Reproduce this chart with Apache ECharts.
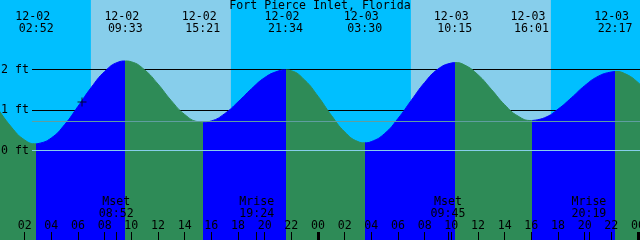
<!DOCTYPE html>
<html><head><meta charset="utf-8">
<script src="https://cdn.jsdelivr.net/npm/echarts@6/dist/echarts.min.js"></script>
<style>html,body{margin:0;padding:0;background:#00BFFF}#c{width:640px;height:240px}</style>
</head><body><div id="c"></div>
<script>
// ---- data ----
const chartTitle = 'Fort Pierce Inlet, Florida';
const extremeTimes = ['12-02 02:52','12-02 09:33','12-02 15:21','12-02 21:34','12-03 03:30','12-03 10:15','12-03 16:01','12-03 22:17'];
const extremeKinds = ['L','H','L','H','L','H','L','H'];
const extremeHeights = [0.165, 2.21, 0.70, 1.99, 0.19, 2.17, 0.74, 1.95];
const hourlyHours = [0,1,2,3,4,5,6,7,8,9,10,11,12,13,14,15,16,17,18,19,20,21,22,23,24,25,26,27,28,29,30,31,32,33,34,35,36,37,38,39,40,41,42,43,44,45,46,47,48,49];
const hourlyHeights = [1.03,0.58,0.26,0.17,0.31,0.64,1.09,1.56,1.95,2.18,2.19,1.99,1.64,1.23,0.89,0.71,0.73,0.91,1.20,1.52,1.80,1.96,1.97,1.74,1.34,0.87,0.46,0.22,0.22,0.42,0.79,1.24,1.68,2.01,2.16,2.11,1.87,1.51,1.13,0.85,0.74,0.81,1.02,1.30,1.60,1.83,1.94,1.90,1.68,1.33];
const sunriseTimes = ['12-02 06:58','12-03 06:58'];
const sunsetTimes = ['12-02 17:28','12-03 17:28'];
const moonNames = ['Mset','Mrise','Mset','Mrise'];
const moonTimes = ['12-02 08:52','12-02 19:24','12-03 09:45','12-03 20:19'];
const nowMarkTime = '12-02 06:18';
const nowMarkHeight = 1.2;
const feetTicks = [0,1,2];
const hourTicks = [0,2,4,6,8,10,12,14,16,18,20,22,24,26,28,30,32,34,36,38,40,42,44,46,48];
const midnightTicks = [0,24,48];
const datumLevel = 0;
const levelLine = 0.73;

// ---- helpers ----
function toHours(s){ // 'MM-DD HH:MM' relative to 12-02 00:00
  const [d,t]=s.split(' ');
  const day=parseInt(d.split('-')[1],10)-2;
  const [hh,mm]=t.split(':').map(Number);
  return day*24+hh+mm/60;
}
const X_MIN=0.15, X_MAX=48.15, Y_MIN=-2.21, Y_MAX=3.716;
const FONT='DejaVu Sans Mono', FS=11.6;
const C_NIGHT='#00BFFF', C_DAY='#87CEEB', C_RISE='#0000FF', C_FALL='#2E8B57';

const extremeHours = extremeTimes.map(toHours);
const tideData = hourlyHours.map((h,i)=>[h,hourlyHeights[i]])
  .concat(extremeHours.map((h,i)=>[h,extremeHeights[i]]))
  .sort((a,b)=>a[0]-b[0]);

const pieces=[];
pieces.push({lt:extremeHours[0], color: extremeKinds[0]==='H'?C_RISE:C_FALL});
for(let i=0;i<extremeHours.length-1;i++){
  pieces.push({gte:extremeHours[i], lt:extremeHours[i+1], color: extremeKinds[i+1]==='H'?C_RISE:C_FALL});
}
pieces.push({gte:extremeHours[extremeHours.length-1], color: extremeKinds[extremeKinds.length-1]==='H'?C_FALL:C_RISE});

const moonHours = moonTimes.map(toHours);
function nearestIdx(arr,v){let b=0;for(let i=1;i<arr.length;i++){if(Math.abs(arr[i]-v)<Math.abs(arr[b]-v))b=i;}return b;}
const pad=n=>String(n).padStart(2,'0');

const dayAreas = sunriseTimes.map((s,i)=>[{xAxis:toHours(s)},{xAxis:toHours(sunsetTimes[i])}]);
const noLine = {show:false,onZero:false};

const chart = echarts.init(document.getElementById('c'));
chart.setOption({
  animation:false,
  backgroundColor:C_NIGHT,
  title:{text:chartTitle,left:'center',top:0,padding:0,textStyle:{fontFamily:FONT,fontSize:FS,fontWeight:'normal',color:'#000',lineHeight:12}},
  grid:[{left:0,right:0,top:0,bottom:0,containLabel:false,outerBoundsMode:'none'},
        {left:32,right:0,top:0,bottom:0,containLabel:false,outerBoundsMode:'none'}],
  visualMap:{type:'piecewise',show:false,dimension:0,seriesIndex:0,pieces:pieces},
  xAxis:[
    {gridIndex:0,type:'value',min:X_MIN,max:X_MAX,position:'bottom',z:10,
     axisLine:noLine,splitLine:{show:false},
     axisTick:{show:true,inside:true,length:8,customValues:hourTicks,lineStyle:{color:'#000',width:1}},
     axisLabel:{inside:true,margin:8,customValues:hourTicks,formatter:v=>pad(Math.round(v)%24),
       fontFamily:FONT,fontSize:FS,color:'#000',lineHeight:12}},
    {gridIndex:0,type:'value',min:X_MIN,max:X_MAX,position:'bottom',z:10,
     axisLine:noLine,splitLine:{show:false},
     axisTick:{show:true,inside:true,length:8,customValues:moonHours,lineStyle:{color:'#000',width:1}},
     axisLabel:{inside:true,margin:20,customValues:moonHours,
       formatter:v=>{const i=nearestIdx(moonHours,v);return moonNames[i]+'\n'+moonTimes[i].split(' ')[1];},
       fontFamily:FONT,fontSize:FS,color:'#000',lineHeight:12}},
    {gridIndex:0,type:'value',min:X_MIN,max:X_MAX,position:'bottom',z:10,
     axisLine:noLine,splitLine:{show:false},axisLabel:{show:false},
     axisTick:{show:true,inside:true,length:8,customValues:midnightTicks,lineStyle:{color:'#000',width:3}}},
    {gridIndex:0,type:'value',min:X_MIN,max:X_MAX,position:'top',z:10,
     axisLine:noLine,splitLine:{show:false},axisTick:{show:false},
     axisLabel:{inside:true,margin:11,customValues:extremeHours,
       formatter:v=>{const i=nearestIdx(extremeHours,v);const p=extremeTimes[i].split(' ');return p[0]+' \n'+p[1];},
       fontFamily:FONT,fontSize:FS,color:'#000',lineHeight:12}},
    {gridIndex:1,type:'value',min:X_MIN,max:X_MAX,show:false,axisLine:noLine}
  ],
  yAxis:[
    {gridIndex:0,type:'value',min:Y_MIN,max:Y_MAX,show:false,axisLine:noLine},
    {gridIndex:1,type:'value',min:Y_MIN,max:Y_MAX,z:10,
     axisLine:noLine,axisTick:{show:false},splitLine:{show:false},
     axisLabel:{customValues:feetTicks,margin:3,formatter:v=>v+' ft',fontFamily:FONT,fontSize:FS,color:'#000'}}
  ],
  series:[
    {type:'line',xAxisIndex:0,yAxisIndex:0,data:tideData,smooth:0.5,symbol:'none',z:2,
     lineStyle:{width:1},areaStyle:{opacity:1,origin:'start'},silent:true},
    {type:'line',xAxisIndex:0,yAxisIndex:0,data:[],symbol:'none',silent:true,
     markArea:{silent:true,z:1,itemStyle:{color:C_DAY},data:dayAreas}},
    {type:'line',xAxisIndex:4,yAxisIndex:1,data:[],symbol:'none',silent:true,
     markLine:{silent:true,z:1.5,symbol:'none',label:{show:false},lineStyle:{color:'#000',width:1,type:'solid'},
       data:feetTicks.filter(v=>v>0).map(v=>({yAxis:v}))}},
    {type:'line',xAxisIndex:4,yAxisIndex:1,data:[],symbol:'none',silent:true,
     markLine:{silent:true,z:5,symbol:'none',label:{show:false},
       data:[{yAxis:datumLevel,lineStyle:{color:'#87CEEB',width:1,type:'solid'}},
             {yAxis:levelLine,lineStyle:{color:'#5F9EA0',width:1,type:'solid'}}]}},
    {type:'scatter',xAxisIndex:0,yAxisIndex:0,z:6,silent:true,
     data:[[toHours(nowMarkTime),nowMarkHeight]],
     symbol:'path://M0,4h9v1h-9zM4,0h1v9h-1z',symbolSize:9,itemStyle:{color:'#000'}}
  ]
});
</script></body></html>
